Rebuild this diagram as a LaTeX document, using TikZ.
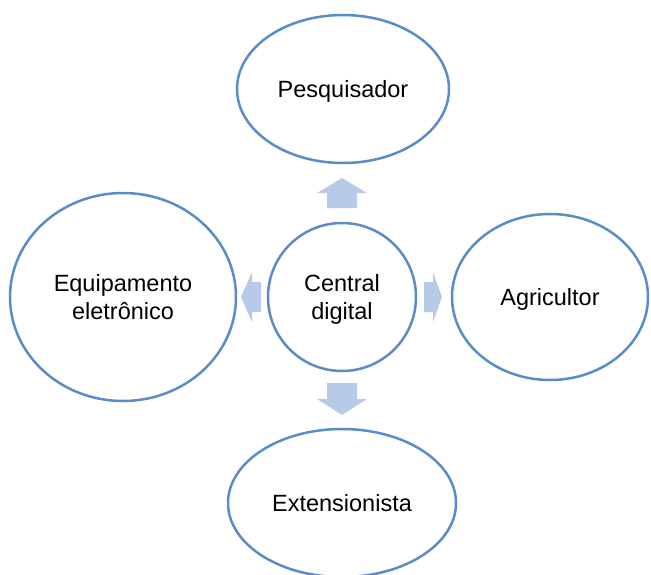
\documentclass[tikz,border=0pt]{standalone}
\usepackage{fontspec}
\setmainfont{Liberation Sans}
\usetikzlibrary{shapes.geometric}

\definecolor{rim}{HTML}{5A8DC8}
\definecolor{flow}{HTML}{B7CBE8}

\tikzset{
  actor/.style={ellipse, draw=rim, line width=2.5pt, fill=white, align=center,
    font=\fontsize{23.5}{28.5}\selectfont, text height=17pt, text depth=0pt, inner sep=0pt},
  twoline/.style={text height=45.5pt},
  hub/.style={actor, twoline, circle, minimum size=148pt},
}

\begin{document}
\begin{tikzpicture}[x=1pt, y=-1pt]
        \useasboundingbox (0, 0) rectangle (651, 574);

        % the hub and the four parties around it
        \node[hub] (central) at (342, 297) {Central\\digital};
        \node[actor, minimum width=212pt, minimum height=148pt] (pesq) at (343, 89) {Pesquisador};
        \node[actor, twoline, minimum width=226pt, minimum height=208pt] (equip) at (123, 297) {Equipamento\\eletrônico};
        \node[actor, minimum width=196pt, minimum height=166pt] (agri) at (550, 297) {Agricultor};
        \node[actor, minimum width=228pt, minimum height=148pt] (ext) at (342, 503) {Extensionista};

        % block arrows pointing out of the hub: angle / shaft start / head base / tip
        \foreach \ang/\a/\b/\c in {90/89/104/119, 270/86/102/118, 180/81/90/101, 0/82/91/100}
            \fill[flow, shift={(central.center)}, rotate=\ang]
            (\a, -15) -- (\b, -15) -- (\b, -25) -- (\c, 0) --
            (\b, 25) -- (\b, 15) -- (\a, 15) -- cycle;
    \end{tikzpicture}
\end{document}
